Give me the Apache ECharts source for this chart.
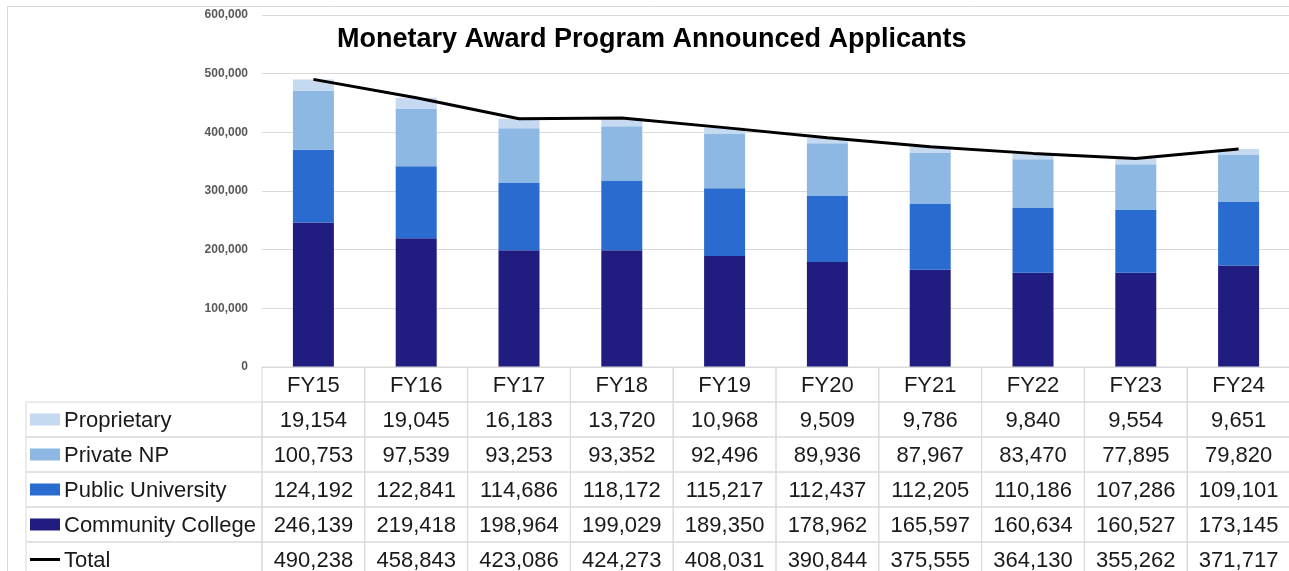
<!DOCTYPE html>
<html>
<head>
<meta charset="utf-8">
<script src="https://cdn.jsdelivr.net/npm/echarts@6/dist/echarts.min.js"></script>
<style>
html,body{margin:0;padding:0;background:#fff;}
#chart{width:1289px;height:571px;}
</style>
</head>
<body>
<div id="chart"></div>
<script>
var categories = ['FY15','FY16','FY17','FY18','FY19','FY20','FY21','FY22','FY23','FY24'];
var proprietary = [19154,19045,16183,13720,10968,9509,9786,9840,9554,9651];
var privateNP = [100753,97539,93253,93352,92496,89936,87967,83470,77895,79820];
var publicUniversity = [124192,122841,114686,118172,115217,112437,112205,110186,107286,109101];
var communityCollege = [246139,219418,198964,199029,189350,178962,165597,160634,160527,173145];
var total = [490238,458843,423086,424273,408031,390844,375555,364130,355262,371717];
var yTicks = [0,100000,200000,300000,400000,500000,600000];

var seriesNames = ['Proprietary','Private NP','Public University','Community College','Total'];
var seriesColors = ['#c5d9f1','#8db8e3','#2a6bd0','#201c80','#000000'];
var seriesValues = [proprietary, privateNP, publicUniversity, communityCollege, total];

var FONT = '"Liberation Sans", Arial, sans-serif';
var labelColStart = -236/102.8;

// table cells: [x0, x1, row, text, kind, seriesIndex]
var cells = [];
categories.forEach(function(c, i){ cells.push([i, i+1, 0, c, 'val', -1]); });
seriesNames.forEach(function(name, s){
  cells.push([labelColStart, 0, s+1, name, 'name', s]);
  seriesValues[s].forEach(function(v, i){
    cells.push([i, i+1, s+1, v.toLocaleString('en-US'), 'val', s]);
  });
});

function renderCell(params, api){
  var x0 = api.value(0), x1 = api.value(1), row = api.value(2);
  var item = cells[params.dataIndex];
  var p0 = api.coord([x0, row]);
  var p1 = api.coord([x1, row + 1]);
  var w = p1[0] - p0[0], h = p1[1] - p0[1];
  var cy = p0[1] + h/2;
  var children = [{
    type: 'rect',
    shape: {x: p0[0], y: p0[1], width: w, height: h},
    style: {fill: null, stroke: '#d9d9d9', lineWidth: 1}
  }];
  if (item[4] === 'val') {
    children.push({
      type: 'text',
      style: {x: p0[0] + w/2, y: cy + 1, text: item[3], fill: '#1a1a1a', font: '22px ' + FONT, align: 'center', verticalAlign: 'middle'}
    });
  } else {
    var s = item[5];
    if (s === 4) {
      children.push({type: 'line', shape: {x1: p0[0]+4, y1: cy, x2: p0[0]+34, y2: cy}, style: {stroke: '#000', lineWidth: 3}});
    } else {
      children.push({type: 'rect', shape: {x: p0[0]+4, y: cy-6, width: 30, height: 12}, style: {fill: seriesColors[s]}});
    }
    children.push({
      type: 'text',
      style: {x: p0[0] + 38, y: cy + 1, text: item[3], fill: '#1a1a1a', font: '22px ' + FONT, align: 'left', verticalAlign: 'middle'}
    });
  }
  return {type: 'group', children: children};
}

var chart = echarts.init(document.getElementById('chart'));
var barSeries = [3,2,1,0].map(function(s){
  return {
    name: seriesNames[s], type: 'bar', stack: 'total', barWidth: 41,
    data: seriesValues[s], itemStyle: {color: seriesColors[s]},
    xAxisIndex: 0, yAxisIndex: 0, silent: true
  };
});
chart.setOption({
  animation: false,
  title: {
    text: 'Monetary Award Program Announced Applicants',
    left: 337, top: 26, padding: 0,
    textStyle: {fontFamily: FONT, fontSize: 27, fontWeight: 'bold', color: '#000'}
  },
  graphic: [{
    type: 'rect', shape: {x: 7.5, y: 6.5, width: 1400, height: 700},
    style: {fill: null, stroke: '#d9d9d9', lineWidth: 1}, z: -10, silent: true
  }],
  grid: [
    {left: 262, top: 15, width: 1028, height: 352, outerBoundsMode: 'none', containLabel: false},
    {left: 26, top: 367, width: 1264, height: 210, outerBoundsMode: 'none', containLabel: false}
  ],
  xAxis: [
    {gridIndex: 0, type: 'category', data: categories, boundaryGap: true,
     axisLine: {show: true, lineStyle: {color: '#d9d9d9'}}, axisTick: {show: false}, axisLabel: {show: false}},
    {gridIndex: 1, type: 'value', min: labelColStart, max: 10, show: false}
  ],
  yAxis: [
    {gridIndex: 0, type: 'value', min: 0, max: 600000, interval: 100000,
     axisLine: {show: false}, axisTick: {show: false},
     splitLine: {lineStyle: {color: '#d9d9d9'}},
     axisLabel: {margin: 14, color: '#595959', fontSize: 12, fontWeight: 'bold', fontFamily: FONT,
       formatter: function(v){ return yTicks.indexOf(v) >= 0 ? v.toLocaleString('en-US') : ''; }}},
    {gridIndex: 1, type: 'value', min: 0, max: 6, inverse: true, show: false}
  ],
  series: barSeries.concat([
    {name: 'Total', type: 'line', data: total, xAxisIndex: 0, yAxisIndex: 0,
     symbol: 'none', lineStyle: {color: '#000', width: 3}, z: 5, silent: true},
    {type: 'custom', xAxisIndex: 1, yAxisIndex: 1, clip: false, silent: true,
     data: cells.map(function(c){ return [c[0], c[1], c[2]]; }),
     renderItem: renderCell, z: 6}
  ])
});
</script>
</body>
</html>
